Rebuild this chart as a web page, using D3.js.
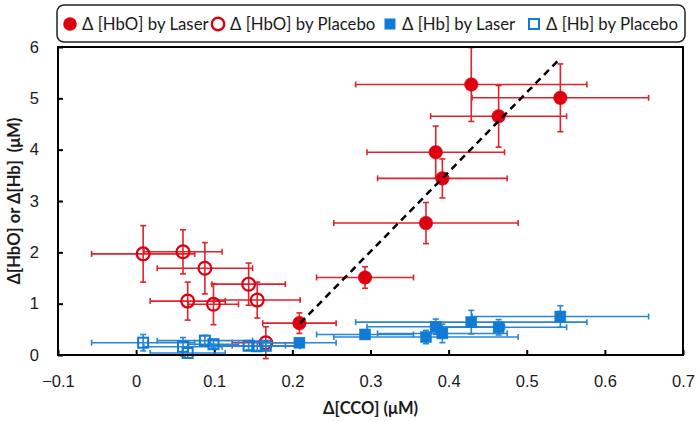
<!DOCTYPE html>
<html><head><meta charset="utf-8">
<script src="https://cdn.jsdelivr.net/npm/d3@7"></script>
<style>
body{margin:0;background:#fff;}
svg{display:block;font-family:Lato,"Liberation Sans",sans-serif;}
</style></head>
<body><svg id="c" width="700" height="421"></svg>
<script>
// ---- data ----
const laserCCO     = [0.209, 0.293, 0.371, 0.3835, 0.392, 0.429, 0.464, 0.543];
const laserCCOErr  = [0.047, 0.062, 0.118, 0.088, 0.083, 0.148, 0.087, 0.113];
const laserHbO     = [0.62, 1.51, 2.57, 3.95, 3.44, 5.27, 4.65, 5.01];
const laserHbOErr  = [0.20, 0.21, 0.40, 0.51, 0.38, 0.72, 0.60, 0.66];
const laserHb      = [0.24, 0.40, 0.35, 0.55, 0.42, 0.64, 0.54, 0.75];
const laserHbErr   = [0.08, 0.08, 0.13, 0.15, 0.18, 0.23, 0.15, 0.21];

const placeboCCO    = [0.009, 0.060, 0.088, 0.144, 0.066, 0.099, 0.155, 0.166];
const placeboCCOErr = [0.066, 0.050, 0.061, 0.047, 0.048, 0.032, 0.055, 0.043];
const placeboHbO    = [1.97, 2.01, 1.69, 1.38, 1.05, 0.99, 1.07, 0.24];
const placeboHbOErr = [0.55, 0.43, 0.50, 0.41, 0.37, 0.40, 0.35, 0.31];
const placeboHb     = [0.24, 0.16, 0.28, 0.18, 0.04, 0.21, 0.17, 0.18];
const placeboHbErr  = [0.16, 0.18, 0.10, 0.08, 0.10, 0.08, 0.08, 0.08];

const fitX = [0.21, 0.541];
const fitY = [0.62, 5.75];

const xTicks = [-0.1, 0, 0.1, 0.2, 0.3, 0.4, 0.5, 0.6, 0.7];
const yTicks = [0, 1, 2, 3, 4, 5, 6];
const legendLabels = ["Δ [HbO] by Laser", "Δ [HbO] by Placebo", "Δ [Hb] by Laser", "Δ [Hb] by Placebo"];
const xTitle = "Δ[CCO] (μM)";
const yTitle = "Δ[HbO] or Δ[Hb]  (μM)";

// ---- layout ----
const L = 58, R = 683, T = 47, B = 355;
const RED = "#dd0010", REDBAR = "#e0222a", BLUE = "#0f7bd6", BLUEBAR = "#2a86d2";
const svg = d3.select("#c");
const x = d3.scaleLinear().domain([-0.1, 0.7]).range([L, R]);
const y = d3.scaleLinear().domain([0, 6]).range([B, T]);

// axes
const fmt = d => (d === 0 ? "0" : d3.format(".1f")(d));
const gx = svg.append("g").attr("transform", `translate(0,${B})`)
  .call(d3.axisBottom(x).tickValues(xTicks).tickFormat(fmt).tickSizeInner(-5).tickSizeOuter(0).tickPadding(20));
const gy = svg.append("g").attr("transform", `translate(${L},0)`)
  .call(d3.axisLeft(y).tickValues(yTicks).tickFormat(d3.format("d")).tickSizeInner(-5).tickSizeOuter(0).tickPadding(19));
[gx, gy].forEach(g => {
  g.select(".domain").remove();
  g.selectAll(".tick line").attr("stroke", "#000").attr("stroke-width", 2);
  g.selectAll(".tick text").attr("font-size", 16.5).attr("fill", "#1a1a1a");
});

function errorBars(cx, cy, ex, ey, color) {
  const g = svg.append("g").attr("stroke", color).attr("stroke-width", 1.6).attr("fill", "none");
  const cap = 3;
  cx.forEach((xv, i) => {
    const px = x(xv), py = y(cy[i]);
    const x0 = x(xv - ex[i]), x1 = x(xv + ex[i]);
    const y0 = y(cy[i] - ey[i]), y1 = y(cy[i] + ey[i]);
    g.append("line").attr("x1", x0).attr("x2", x1).attr("y1", py).attr("y2", py);
    g.append("line").attr("x1", x0).attr("x2", x0).attr("y1", py - cap).attr("y2", py + cap);
    g.append("line").attr("x1", x1).attr("x2", x1).attr("y1", py - cap).attr("y2", py + cap);
    g.append("line").attr("x1", px).attr("x2", px).attr("y1", y0).attr("y2", y1);
    g.append("line").attr("x1", px - cap).attr("x2", px + cap).attr("y1", y0).attr("y2", y0);
    g.append("line").attr("x1", px - cap).attr("x2", px + cap).attr("y1", y1).attr("y2", y1);
  });
}
function circles(cx, cy, filled) {
  svg.append("g").selectAll("circle").data(cx).join("circle")
    .attr("cx", d => x(d)).attr("cy", (d, i) => y(cy[i]))
    .attr("r", filled ? 6.8 : 6.4)
    .attr("fill", filled ? RED : "none")
    .attr("stroke", RED).attr("stroke-width", filled ? 0.5 : 2.2);
}
function squares(cx, cy, filled) {
  const s = filled ? 11 : 10;
  svg.append("g").selectAll("rect").data(cx).join("rect")
    .attr("x", d => x(d) - s / 2).attr("y", (d, i) => y(cy[i]) - s / 2)
    .attr("width", s).attr("height", s)
    .attr("fill", filled ? BLUE : "none")
    .attr("stroke", BLUE).attr("stroke-width", filled ? 0.5 : 2);
}

// red series
errorBars(placeboCCO, placeboHbO, placeboCCOErr, placeboHbOErr, REDBAR);
circles(placeboCCO, placeboHbO, false);
errorBars(laserCCO, laserHbO, laserCCOErr, laserHbOErr, REDBAR);
circles(laserCCO, laserHbO, true);
// blue series
errorBars(placeboCCO, placeboHb, placeboCCOErr, placeboHbErr, BLUEBAR);
squares(placeboCCO, placeboHb, false);
errorBars(laserCCO, laserHb, laserCCOErr, laserHbErr, BLUEBAR);
squares(laserCCO, laserHb, true);

// fit line
svg.append("path")
  .attr("d", d3.line().x(d => x(d[0])).y(d => y(d[1]))(fitX.map((v, i) => [v, fitY[i]])))
  .attr("stroke", "#000").attr("stroke-width", 2.5).attr("stroke-dasharray", "7,5").attr("fill", "none");

// frame
svg.append("rect").attr("x", L).attr("y", T).attr("width", R - L).attr("height", B - T)
  .attr("fill", "none").attr("stroke", "#000").attr("stroke-width", 2);

// axis titles
svg.append("text").attr("x", (L + R) / 2).attr("y", 414).attr("text-anchor", "middle")
  .attr("font-size", 16.5).attr("font-weight", "bold").attr("fill", "#1a1a1a").text(xTitle);
svg.append("text").attr("transform", `translate(20,${(T + B) / 2}) rotate(-90)`)
  .attr("text-anchor", "middle").attr("font-size", 16.5).attr("font-weight", "bold")
  .attr("fill", "#1a1a1a").attr("xml:space", "preserve").style("white-space", "pre").text(yTitle);

// legend
svg.append("rect").attr("x", 57).attr("y", 5).attr("width", 628).attr("height", 37).attr("rx", 7)
  .attr("fill", "#fff").attr("stroke", "#222").attr("stroke-width", 1.5);
const lgX = [70, 218, 390, 534];
const lgY = 24;
const lg = svg.append("g");
lg.append("circle").attr("cx", lgX[0]).attr("cy", lgY).attr("r", 6.8).attr("fill", RED);
lg.append("circle").attr("cx", lgX[1]).attr("cy", lgY).attr("r", 6.2).attr("fill", "none").attr("stroke", RED).attr("stroke-width", 2.4);
lg.append("rect").attr("x", lgX[2] - 5.5).attr("y", lgY - 5.5).attr("width", 11).attr("height", 11).attr("fill", BLUE);
lg.append("rect").attr("x", lgX[3] - 5).attr("y", lgY - 5).attr("width", 10).attr("height", 10).attr("fill", "none").attr("stroke", BLUE).attr("stroke-width", 2);
legendLabels.forEach((t, i) => {
  lg.append("text").attr("x", lgX[i] + 12).attr("y", lgY + 6).attr("font-size", 16.8).attr("fill", "#1a1a1a").text(t);
});
</script></body></html>
